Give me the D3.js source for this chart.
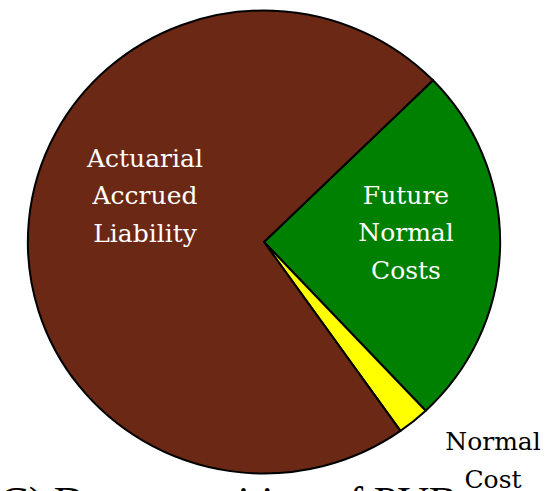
<!DOCTYPE html>
<html><head><meta charset="utf-8">
<script src="https://cdn.jsdelivr.net/npm/d3@7"></script>
<style>html,body{margin:0;padding:0;background:#fff;overflow:hidden}svg{display:block}</style>
</head><body>
<script>
const categories = ["Future Normal Costs", "Normal Cost", "Actuarial Accrued Liability"];
const values = [25.3, 2.2, 72.5];
const colors = ["#008000", "#ffff00", "#6b2814"];
const labelLines = [["Future", "Normal", "Costs"], ["Normal", "Cost"], ["Actuarial", "Accrued", "Liability"]];
const title = "C) Decomposition of PVB";

const W = 556, H = 491;
const cx = 264, cy = 242, r = 231.5, sx = 1.02;
const svg = d3.select("body").append("svg").attr("width", W).attr("height", H);

const pie = d3.pie().sort(null).value(d => d)
  .startAngle(45.7 * Math.PI / 180).endAngle(45.7 * Math.PI / 180 + 2 * Math.PI);
const arcs = pie(values);
const arc = d3.arc().innerRadius(0).outerRadius(r);

const g = svg.append("g").attr("transform", `translate(${cx},${cy}) scale(${sx},1)`);
g.selectAll("path").data(arcs).join("path")
  .attr("d", arc).attr("fill", (d, i) => colors[i])
  .attr("stroke", "#000").attr("stroke-width", 2).attr("stroke-linejoin", "round");

const labelPos = [[406, 232, "#fff"], [493, 460, "#000"], [145, 195, "#fff"]];
const lh = 37.5;
labelLines.forEach((lines, i) => {
  const [x, y, c] = labelPos[i];
  const t = svg.append("text").attr("text-anchor", "middle")
    .attr("font-family", "DejaVu Serif, serif").attr("font-size", 25).attr("fill", c);
  lines.forEach((ln, j) => {
    t.append("tspan").attr("x", x)
      .attr("y", y + (j - (lines.length - 1) / 2) * lh + 9).text(ln);
  });
});

svg.append("text").attr("x", 0).attr("y", 516)
  .attr("font-family", "Liberation Serif, serif").attr("font-size", 43)
  .attr("fill", "#000").text(title);
</script>
</body></html>
